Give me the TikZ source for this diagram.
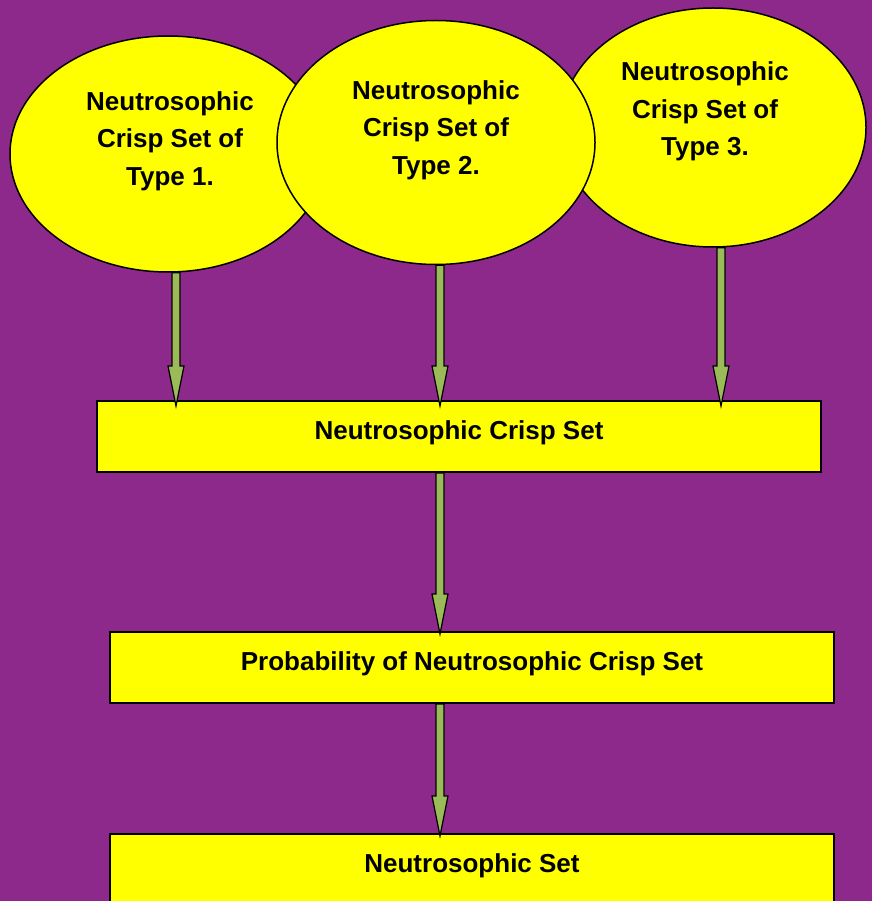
\documentclass[tikz,border=0pt]{standalone}
\usepackage{fontspec}
\setmainfont{Liberation Sans}
\usetikzlibrary{shapes.geometric,calc}
\definecolor{bgpurple}{HTML}{8E298C}
\definecolor{boxyellow}{HTML}{FFFF00}
\definecolor{arrowgreen}{HTML}{9BBB59}
\tikzset{
  bubble/.style={ellipse, draw=black, line width=1.5pt, fill=boxyellow, inner sep=0pt},
  bubbletext/.style={align=center, font=\fontsize{26}{37.5}\selectfont\bfseries, inner sep=0pt},
  stage/.style={rectangle, draw=black, line width=2pt, fill=boxyellow, inner sep=0pt,
    text height=19pt, text depth=13pt,
    font=\fontsize{26}{31}\selectfont\bfseries},
  fatarrow/.style={draw=black, line width=1.2pt, fill=arrowgreen, line join=miter}
}
\newcommand{\fatarr}[2]{%
  \path[fatarrow] let \p1=(#1), \p2=(#2) in
    (\x1-4pt,\y1) -- (\x1-4pt,\y2+40pt) -- (\x1-8pt,\y2+40pt) -- (\x1,\y2)
    -- (\x1+8pt,\y2+40pt) -- (\x1+4pt,\y2+40pt) -- (\x1+4pt,\y1) -- cycle;}
\begin{document}
\begin{tikzpicture}[x=1pt,y=-1pt]
\fill[bgpurple] (0,0) rectangle (872,901);
\useasboundingbox (0,0) rectangle (872,901);
\clip (0,0) rectangle (872,901);
% ellipses
\node[bubble, minimum width=316pt, minimum height=236pt] (e1) at (168,154) {};
\node[bubble, minimum width=306pt, minimum height=239pt] (e3) at (713,127.5) {};
\node[bubble, minimum width=318pt, minimum height=244pt] (e2) at (436,142.5) {};
\node[bubbletext] (t1) at (170,141) {Neutrosophic\\Crisp Set of\\Type 1.};
\node[bubbletext] (t2) at (436,130) {Neutrosophic\\Crisp Set of\\Type 2.};
\node[bubbletext] (t3) at (705,111.5) {Neutrosophic\\Crisp Set of\\Type 3.};
% boxes
\node[stage, minimum width=724pt, minimum height=71pt] (b1) at (459,436.5) {Neutrosophic Crisp Set};
\node[stage, minimum width=724pt, minimum height=71pt] (b2) at (472,667.5) {Probability of Neutrosophic Crisp Set};
\node[stage, minimum width=724pt, minimum height=71pt] (b3) at (472,869.5) {Neutrosophic Set};
% arrow targets
\coordinate (a1) at (176,406);
\coordinate (a2) at (440,406);
\coordinate (a3) at (721,406);
\coordinate (a4) at (440,634);
\coordinate (a5) at (440,836);
\fatarr{a1 |- e1.south}{a1}
\fatarr{a2 |- e2.south}{a2}
\fatarr{a3 |- e3.south}{a3}
\fatarr{a4 |- b1.south}{a4}
\fatarr{a5 |- b2.south}{a5}
\end{tikzpicture}
\end{document}
